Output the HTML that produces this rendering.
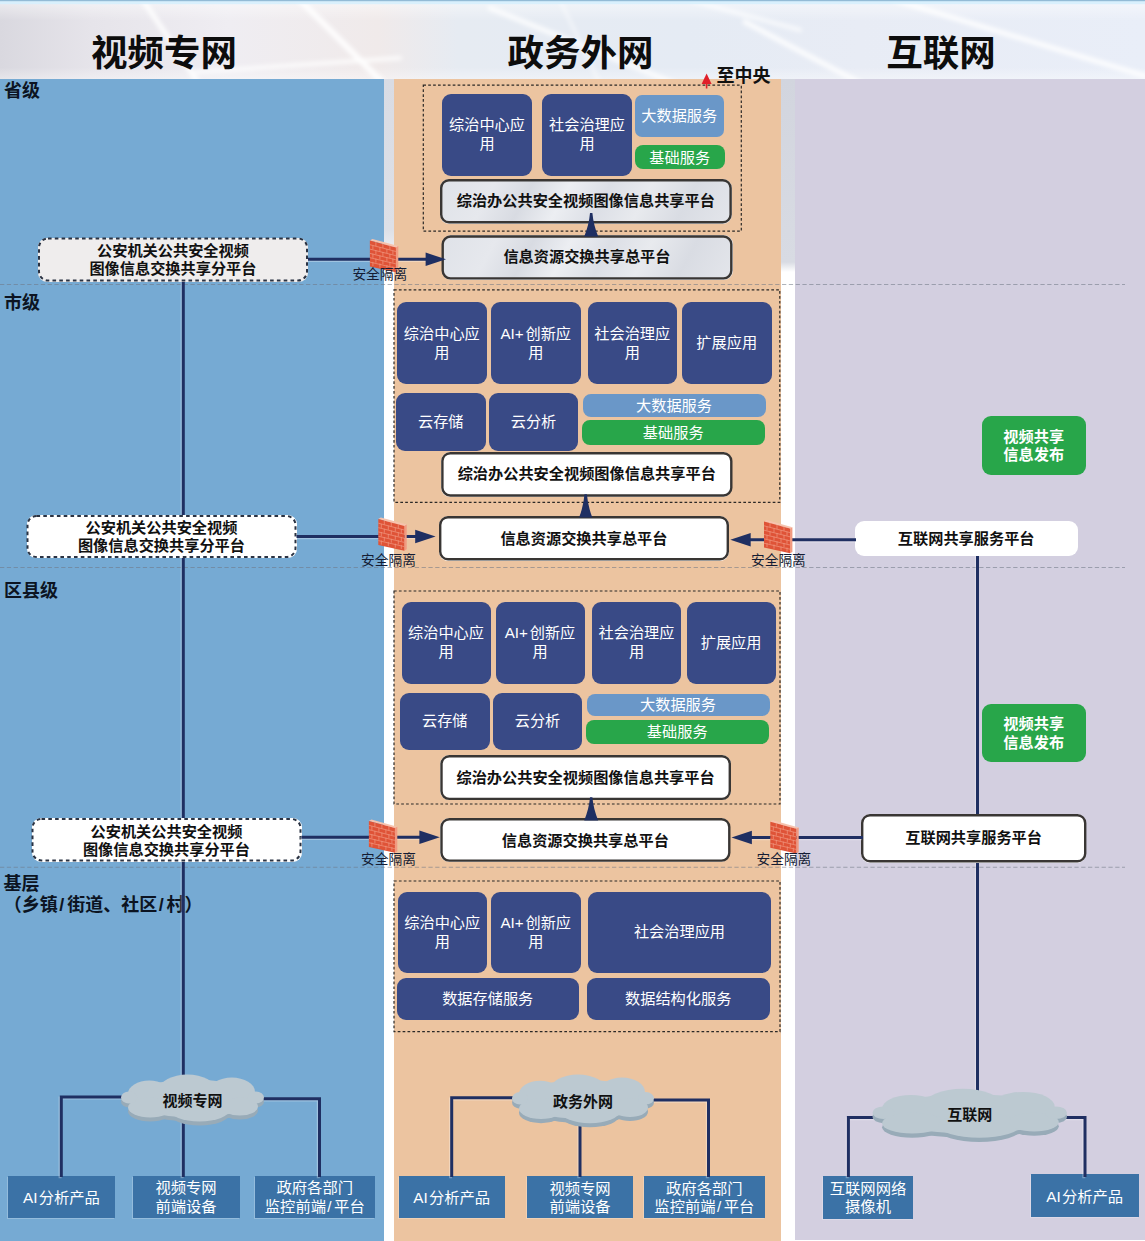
<!DOCTYPE html><html lang="zh-CN"><head><meta charset="utf-8"><title>公共安全视频图像信息共享平台 网络架构</title><style>
html,body{margin:0;padding:0;background:#eef1f6}
body{width:1145px;height:1241px;overflow:hidden;font-family:"Liberation Sans",sans-serif}
#stage{position:relative;width:1145px;height:1241px;overflow:hidden;
 background:#fff;}
.col{position:absolute;top:79.3px;height:1162px}
.b{position:absolute;margin:0;display:flex;align-items:center;justify-content:center;text-align:center;
 font-size:15px;line-height:19px;color:transparent;white-space:nowrap;overflow:hidden;font-weight:normal}
.b.l{justify-content:flex-start;font-size:17px;font-weight:bold}
h1.b{font-size:36px;font-weight:bold}
svg.layer{position:absolute;left:0;top:0;width:1145px;height:1241px;overflow:visible}
svg.layer text{font-family:"Liberation Sans","Noto Sans CJK SC",sans-serif;white-space:pre}
svg.layer .tb{font-weight:bold}
svg.layer .tr{font-weight:normal}
</style></head><body><div id="stage">
<svg width="0" height="0" style="position:absolute" aria-hidden="true"><defs><g id="fw"><path d="M0 0 L2.5 -1.4 L28.4 5.7 L26 7 Z" fill="#f6c3ae"/><path d="M26 7 L28.4 5.7 L28.4 30.4 L26 31.8 Z" fill="#f19a80"/><path d="M0 0 L26 7 L26 31.8 L0 26 Z" fill="#df5337"/><g stroke="#f09a82" stroke-width=".7" fill="none"><path d="M0 4.3 L26 11.1 M0 8.7 L26 15.3 M0 13 L26 19.4 M0 17.3 L26 23.5 M0 21.7 L26 27.7"/><path d="M6 1.6V5.8 M13 3.5V7.6 M20 5.4V9.4 M3 5V9 M10 6.8V10.9 M17 8.6V12.6 M23 10.2V14.1 M6 9.8V13.9 M13 11.6V15.7 M20 13.4V17.4 M3 13.2V17.4 M10 15V19 M17 16.7V20.7 M23 18.2V22.2 M6 18.1V22.2 M13 19.9V23.8 M20 21.5V25.5 M3 21.5V25.7 M10 23V27.2 M17 24.7V28.8 M23 26V30"/></g></g><g id="cloud"><g fill="#98abb8" transform="translate(0 4)"><ellipse cx="71" cy="24" rx="62" ry="19"/><ellipse cx="28" cy="19" rx="21" ry="13"/><ellipse cx="66" cy="15" rx="28" ry="15"/><ellipse cx="110" cy="17" rx="23" ry="14"/><ellipse cx="29" cy="33" rx="22" ry="10"/><ellipse cx="78" cy="35" rx="30" ry="12"/><ellipse cx="118" cy="32" rx="18" ry="9"/><ellipse cx="8" cy="23" rx="8" ry="6"/><ellipse cx="134" cy="23" rx="8" ry="6"/></g><g fill="#bcc9d1"><ellipse cx="71" cy="24" rx="62" ry="19"/><ellipse cx="28" cy="19" rx="21" ry="13"/><ellipse cx="66" cy="15" rx="28" ry="15"/><ellipse cx="110" cy="17" rx="23" ry="14"/><ellipse cx="29" cy="33" rx="22" ry="10"/><ellipse cx="78" cy="35" rx="30" ry="12"/><ellipse cx="118" cy="32" rx="18" ry="9"/><ellipse cx="8" cy="23" rx="8" ry="6"/><ellipse cx="134" cy="23" rx="8" ry="6"/></g></g></defs></svg>
<svg class="hdr" width="1145" height="84" viewBox="0 0 1145 84" aria-hidden="true" style="position:absolute;left:0;top:0"><defs><linearGradient id="hg" x1="0" x2="1" y1="0" y2="0"><stop offset="0" stop-color="#d9d8df"/><stop offset=".08" stop-color="#e6e4ea"/><stop offset=".2" stop-color="#efedf2"/><stop offset=".33" stop-color="#f0eaea"/><stop offset=".4" stop-color="#e6ebf2"/><stop offset=".6" stop-color="#e5ebf4"/><stop offset=".75" stop-color="#e8ecf5"/><stop offset="1" stop-color="#e9eef8"/></linearGradient><linearGradient id="hv" x1="0" x2="0" y1="0" y2="1"><stop offset="0" stop-color="#fff" stop-opacity=".55"/><stop offset=".25" stop-color="#fff" stop-opacity="0"/><stop offset=".8" stop-color="#fff" stop-opacity="0"/><stop offset="1" stop-color="#fff" stop-opacity=".5"/></linearGradient><filter id="bl" x="-5%" y="-50%" width="110%" height="200%"><feGaussianBlur stdDeviation="2.2"/></filter></defs><rect width="1145" height="84" fill="url(#hg)"/><rect width="1145" height="84" fill="url(#hv)"/><g filter="url(#bl)" stroke="#fff" fill="none" stroke-linecap="round"><path d="M143 0 L199 84" stroke-width="5" opacity=".85"/><path d="M300 0 L384 84" stroke-width="6" opacity=".9"/><path d="M196 72 L400 58" stroke-width="4" opacity=".8"/><path d="M490 8 L676 84" stroke-width="5" opacity=".8"/><path d="M690 0 L800 30" stroke-width="4" opacity=".7"/><path d="M745 22 L862 84" stroke-width="5" opacity=".85"/><path d="M895 0 L1145 76" stroke-width="5" opacity=".85"/><path d="M560 0 L600 84" stroke-width="3" opacity=".5"/></g><rect width="1145" height="4.2" fill="#d6effd" opacity=".9"/><rect width="1145" height="1.2" fill="#93bbd6"/></svg>
<div class="col" style="left:0;width:384px;background:#76aad3"></div>
<div class="col" style="left:393.5px;width:387px;background:#ecc4a0"></div>
<div class="col" style="left:795px;width:350px;height:1160.3px;background:#d3cfe0"></div>
<div class="col" style="left:384px;width:9.5px;background:linear-gradient(180deg,#d9dce4 0,#dde0e7 150px,#fff 200px)"></div>
<div class="col" style="left:780.5px;width:14.5px;background:linear-gradient(180deg,#d2d5de 0,#d8dbe3 183px,#fff 193px)"></div>
<svg class="layer" viewBox="0 0 1145 1241" aria-hidden="true"><g fill="#0c1422" class="tb" font-size="18"><text x="4" y="97.24">省级</text><text x="4" y="308.84">市级</text><text x="4" y="597.34">区县级</text><text x="3.5" y="889.54">基层</text><text x="3.8" y="910.84">（乡镇<tspan x="59.37">/</tspan><tspan x="67.2">街道、社区</tspan><tspan x="158.76">/</tspan><tspan x="166.59">村）</tspan></text></g><line x1="0" y1="284.5" x2="1125" y2="284.5" stroke="#6f7784" stroke-width="1.1" stroke-dasharray="4.3 2.5" opacity=".55"/><line x1="0" y1="567.5" x2="1125" y2="567.5" stroke="#6f7784" stroke-width="1.1" stroke-dasharray="4.3 2.5" opacity=".55"/><line x1="0" y1="867.3" x2="1125" y2="867.3" stroke="#6f7784" stroke-width="1.1" stroke-dasharray="4.3 2.5" opacity=".55"/><path d="M183.3 281 L183.3 1080" fill="none" stroke="#fff" stroke-opacity=".3" stroke-width="3" transform="translate(-1.2 1.2)"/><path d="M183.3 281 L183.3 1080" fill="none" stroke="#1f2f62" stroke-width="3" stroke-linejoin="miter"/><path d="M977.5 555 L977.5 1092" fill="none" stroke="#fff" stroke-opacity=".3" stroke-width="3" transform="translate(-1.2 1.2)"/><path d="M977.5 555 L977.5 1092" fill="none" stroke="#1f2f62" stroke-width="3" stroke-linejoin="miter"/><rect x="423.3" y="85.2" width="318" height="146" fill="none" stroke="#2b2826" stroke-width="1.2" stroke-dasharray="2.7 2.2"/><rect x="394" y="289.8" width="385.8" height="212.5" fill="none" stroke="#2b2826" stroke-width="1.2" stroke-dasharray="2.7 2.2"/><rect x="394" y="591" width="386" height="213" fill="none" stroke="#2b2826" stroke-width="1.2" stroke-dasharray="2.7 2.2"/><rect x="394" y="881" width="386" height="150.7" fill="none" stroke="#2b2826" stroke-width="1.2" stroke-dasharray="2.7 2.2"/></svg>
<h1 class="b" style="left:64px;top:32px;width:200px;height:42px"><span>视频专网</span></h1>
<h1 class="b" style="left:480.5px;top:32px;width:200px;height:42px"><span>政务外网</span></h1>
<h1 class="b" style="left:841px;top:32px;width:200px;height:42px"><span>互联网</span></h1>
<div class="b l" style="left:4px;top:81.4px;height:18px"><span>省级</span></div>
<div class="b l" style="left:4px;top:293px;height:18px"><span>市级</span></div>
<div class="b l" style="left:4px;top:581.5px;height:18px"><span>区县级</span></div>
<div class="b l" style="left:3.5px;top:873.7px;height:18px"><span>基层</span></div>
<div class="b l" style="left:3.8px;top:895px;height:18px"><span>（乡镇/街道、社区/村）</span></div>
<div class="b" style="left:716px;top:69px;width:56px;height:18px"><span>至中央</span></div>
<div class="b " style="left:442px;top:94px;width:90px;height:81.7px;background:#394a86;border-radius:9px;"><span>综治中心应<br>用</span></div>
<div class="b " style="left:542px;top:94px;width:90px;height:81.7px;background:#394a86;border-radius:9px;"><span>社会治理应<br>用</span></div>
<div class="b " style="left:634.5px;top:95px;width:89.5px;height:42px;background:#6a97c8;border-radius:7px;"><span>大数据服务</span></div>
<div class="b " style="left:635px;top:145px;width:89.5px;height:24px;background:#28a64a;border-radius:8px;"><span>基础服务</span></div>
<div class="b " style="left:440px;top:179px;width:291.8px;height:44.5px;background:linear-gradient(118deg,#dfe2e8 0,#e6e8ed 18%,#d8dbe2 30%,#eceef2 42%,#dcdfe6 55%,#e8eaee 68%,#d9dce3 82%,#e4e6eb 100%);border-radius:9px;"><span>综治办公共安全视频图像信息共享平台</span></div>
<div class="b " style="left:441.5px;top:235.3px;width:291px;height:44.3px;background:linear-gradient(118deg,#dfe2e8 0,#e6e8ed 18%,#d8dbe2 30%,#eceef2 42%,#dcdfe6 55%,#e8eaee 68%,#d9dce3 82%,#e4e6eb 100%);border-radius:9px;"><span>信息资源交换共享总平台</span></div>
<div class="b " style="left:38px;top:237.5px;width:270px;height:44px;background:#efeded;border-radius:9px;"><span>公安机关公共安全视频<br>图像信息交换共享分平台</span></div>
<div class="b" style="left:350.8px;top:266.7px;width:58px;height:15px;font-size:13px"><span>安全隔离</span></div>
<div class="b " style="left:397px;top:302px;width:89.7px;height:82.3px;background:#394a86;border-radius:9px;"><span>综治中心应<br>用</span></div>
<div class="b " style="left:491px;top:302px;width:89.5px;height:82.3px;background:#394a86;border-radius:9px;"><span>AI+创新应<br>用</span></div>
<div class="b " style="left:588px;top:302px;width:88.5px;height:82.3px;background:#394a86;border-radius:9px;"><span>社会治理应<br>用</span></div>
<div class="b " style="left:682px;top:302px;width:89.5px;height:82.3px;background:#394a86;border-radius:9px;"><span>扩展应用</span></div>
<div class="b " style="left:396px;top:393px;width:89.5px;height:57.5px;background:#394a86;border-radius:9px;"><span>云存储</span></div>
<div class="b " style="left:489px;top:393px;width:89px;height:57.5px;background:#394a86;border-radius:9px;"><span>云分析</span></div>
<div class="b " style="left:582.5px;top:394px;width:183px;height:23.3px;background:#6a97c8;border-radius:8px;"><span>大数据服务</span></div>
<div class="b " style="left:582px;top:420px;width:182.5px;height:24.6px;background:#28a64a;border-radius:8px;"><span>基础服务</span></div>
<div class="b " style="left:441.2px;top:452px;width:291.3px;height:44.7px;background:#fff;border-radius:9px;"><span>综治办公共安全视频图像信息共享平台</span></div>
<div class="b " style="left:439px;top:516px;width:290px;height:44.5px;background:#fff;border-radius:9px;"><span>信息资源交换共享总平台</span></div>
<div class="b " style="left:26.5px;top:515px;width:270px;height:43px;background:#fff;border-radius:9px;"><span>公安机关公共安全视频<br>图像信息交换共享分平台</span></div>
<div class="b" style="left:359.5px;top:552.1px;width:58px;height:15px;font-size:13px"><span>安全隔离</span></div>
<div class="b " style="left:854.5px;top:521px;width:223.5px;height:35px;background:#fff;border-radius:9px;"><span>互联网共享服务平台</span></div>
<div class="b" style="left:749.4px;top:552.3px;width:58px;height:15px;font-size:13px"><span>安全隔离</span></div>
<div class="b " style="left:982px;top:416px;width:103.5px;height:58.5px;background:#28a64a;border-radius:9px;"><span>视频共享<br>信息发布</span></div>
<div class="b " style="left:401.5px;top:602px;width:89px;height:81.5px;background:#394a86;border-radius:9px;"><span>综治中心应<br>用</span></div>
<div class="b " style="left:495.5px;top:602px;width:89px;height:81.5px;background:#394a86;border-radius:9px;"><span>AI+创新应<br>用</span></div>
<div class="b " style="left:592px;top:602px;width:89px;height:81.5px;background:#394a86;border-radius:9px;"><span>社会治理应<br>用</span></div>
<div class="b " style="left:686.5px;top:602px;width:89.2px;height:81.5px;background:#394a86;border-radius:9px;"><span>扩展应用</span></div>
<div class="b " style="left:400px;top:693px;width:89.5px;height:57px;background:#394a86;border-radius:9px;"><span>云存储</span></div>
<div class="b " style="left:493px;top:693px;width:89px;height:57px;background:#394a86;border-radius:9px;"><span>云分析</span></div>
<div class="b " style="left:586.5px;top:693.5px;width:183px;height:22.8px;background:#6a97c8;border-radius:8px;"><span>大数据服务</span></div>
<div class="b " style="left:585.5px;top:719.8px;width:183.5px;height:23.8px;background:#28a64a;border-radius:8px;"><span>基础服务</span></div>
<div class="b " style="left:440.3px;top:755px;width:290.7px;height:45.1px;background:#fff;border-radius:9px;"><span>综治办公共安全视频图像信息共享平台</span></div>
<div class="b " style="left:440.3px;top:818px;width:290.2px;height:43.8px;background:#fff;border-radius:9px;"><span>信息资源交换共享总平台</span></div>
<div class="b " style="left:31.5px;top:818px;width:270px;height:43.5px;background:#fff;border-radius:9px;"><span>公安机关公共安全视频<br>图像信息交换共享分平台</span></div>
<div class="b" style="left:359.5px;top:851.5px;width:58px;height:15px;font-size:13px"><span>安全隔离</span></div>
<div class="b " style="left:861px;top:814px;width:225.4px;height:48.5px;background:#fff;border-radius:9px;"><span>互联网共享服务平台</span></div>
<div class="b" style="left:754.9px;top:851.3px;width:58px;height:15px;font-size:13px"><span>安全隔离</span></div>
<div class="b " style="left:982px;top:703.5px;width:103.5px;height:58.5px;background:#28a64a;border-radius:9px;"><span>视频共享<br>信息发布</span></div>
<div class="b " style="left:397.5px;top:892px;width:89.5px;height:81px;background:#394a86;border-radius:9px;"><span>综治中心应<br>用</span></div>
<div class="b " style="left:491px;top:892px;width:89.5px;height:81px;background:#394a86;border-radius:9px;"><span>AI+创新应<br>用</span></div>
<div class="b " style="left:588px;top:892px;width:183px;height:81px;background:#394a86;border-radius:9px;"><span>社会治理应用</span></div>
<div class="b " style="left:396.5px;top:978px;width:182.5px;height:41.5px;background:#394a86;border-radius:9px;"><span>数据存储服务</span></div>
<div class="b " style="left:586.5px;top:978px;width:183.5px;height:41.5px;background:#394a86;border-radius:9px;"><span>数据结构化服务</span></div>
<div class="b" style="left:121px;top:1074.6px;width:143px;height:51.9px"><span>视频专网</span></div>
<div class="b " style="left:8px;top:1175.5px;width:107px;height:42.5px;background:#3b72a6;border-radius:0px;box-shadow:-1px 1px 0 rgba(255,255,255,.22);"><span>AI分析产品</span></div>
<div class="b " style="left:132.5px;top:1175.5px;width:107px;height:42.5px;background:#3b72a6;border-radius:0px;box-shadow:-1px 1px 0 rgba(255,255,255,.22);"><span>视频专网<br>前端设备</span></div>
<div class="b " style="left:254.5px;top:1175.5px;width:120.5px;height:42.5px;background:#3b72a6;border-radius:0px;box-shadow:-1px 1px 0 rgba(255,255,255,.22);"><span>政府各部门<br>监控前端/平台</span></div>
<div class="b" style="left:512px;top:1074.5px;width:142px;height:53.8px"><span>政务外网</span></div>
<div class="b " style="left:398.5px;top:1176px;width:106.5px;height:42px;background:#3b72a6;border-radius:0px;box-shadow:-1px 1px 0 rgba(255,255,255,.22);"><span>AI分析产品</span></div>
<div class="b " style="left:527px;top:1176px;width:106px;height:42px;background:#3b72a6;border-radius:0px;box-shadow:-1px 1px 0 rgba(255,255,255,.22);"><span>视频专网<br>前端设备</span></div>
<div class="b " style="left:644px;top:1176px;width:120.6px;height:42px;background:#3b72a6;border-radius:0px;box-shadow:-1px 1px 0 rgba(255,255,255,.22);"><span>政府各部门<br>监控前端/平台</span></div>
<div class="b" style="left:872.5px;top:1088.8px;width:194.5px;height:54.2px"><span>互联网</span></div>
<div class="b " style="left:822.6px;top:1175.5px;width:90.8px;height:43.3px;background:#3b72a6;border-radius:0px;box-shadow:-1px 1px 0 rgba(255,255,255,.22);"><span>互联网网络<br>摄像机</span></div>
<div class="b " style="left:1030.8px;top:1174.4px;width:107.9px;height:43px;background:#3b72a6;border-radius:0px;box-shadow:-1px 1px 0 rgba(255,255,255,.22);"><span>AI分析产品</span></div>
<svg class="layer" viewBox="0 0 1145 1241" aria-hidden="true"><rect x="441.2" y="180.2" width="289.4" height="42.1" rx="7.8" fill="none" stroke="#393634" stroke-width="2.4"/><rect x="442.7" y="236.5" width="288.6" height="41.9" rx="7.8" fill="none" stroke="#393634" stroke-width="2.4"/><rect x="442.4" y="453.2" width="288.9" height="42.3" rx="7.8" fill="none" stroke="#393634" stroke-width="2.4"/><rect x="440.2" y="517.2" width="287.6" height="42.1" rx="7.8" fill="none" stroke="#393634" stroke-width="2.4"/><rect x="441.5" y="756.2" width="288.3" height="42.7" rx="7.8" fill="none" stroke="#393634" stroke-width="2.4"/><rect x="441.5" y="819.2" width="287.8" height="41.4" rx="7.8" fill="none" stroke="#393634" stroke-width="2.4"/><rect x="862.2" y="815.2" width="223" height="46.1" rx="7.8" fill="none" stroke="#393634" stroke-width="2.4"/><path d="M706.6 73.5 L701.6 84 L711.6 84 Z" fill="#e0202a"/><line x1="706.6" y1="84" x2="706.6" y2="88.5" stroke="#e0202a" stroke-width="1.6"/><path d="M590 213 L592.4 213 Q593.4 224.75 598.2 236.5 L584.2 236.5 Q589 224.75 590 213 Z" fill="#1f2f62"/><rect x="39" y="238.5" width="268" height="42" rx="9" fill="none" stroke="#2a3242" stroke-width="2" stroke-dasharray="3.6 3.2"/><path d="M308 259.3 L429.68 259.3" fill="none" stroke="#fff" stroke-opacity=".3" stroke-width="3.1" transform="translate(-1.2 1.2)"/><path d="M308 259.3 L429.68 259.3" fill="none" stroke="#1f2f62" stroke-width="3.1" stroke-linejoin="miter"/><path d="M446 259.3 L425.6 252.6 L425.6 266 Z" fill="#1f2f62"/><use href="#fw" transform="translate(369.9 240.4) scale(1)"/><path d="M584.5 494.3 L586.9 494.3 Q587.9 505.95 592.3 517.6 L579.1 517.6 Q583.5 505.95 584.5 494.3 Z" fill="#1f2f62"/><rect x="27.5" y="516" width="268" height="41" rx="9" fill="none" stroke="#2a3242" stroke-width="2" stroke-dasharray="3.6 3.2"/><path d="M296.5 536.5 L419.28 536.5" fill="none" stroke="#fff" stroke-opacity=".3" stroke-width="3.1" transform="translate(-1.2 1.2)"/><path d="M296.5 536.5 L419.28 536.5" fill="none" stroke="#1f2f62" stroke-width="3.1" stroke-linejoin="miter"/><path d="M435.6 536.5 L415.2 529.8 L415.2 543.2 Z" fill="#1f2f62"/><use href="#fw" transform="translate(378.3 518.9) scale(1)"/><path d="M856 539.8 L746.62 539.8" fill="none" stroke="#fff" stroke-opacity=".3" stroke-width="3.1" transform="translate(-1.2 1.2)"/><path d="M856 539.8 L746.62 539.8" fill="none" stroke="#1f2f62" stroke-width="3.1" stroke-linejoin="miter"/><path d="M730.3 539.8 L750.7 533.1 L750.7 546.5 Z" fill="#1f2f62"/><use href="#fw" transform="translate(764 521.5) scale(1)"/><path d="M590 797.2 L592.4 797.2 Q593.4 808.8 598.2 820.4 L584.2 820.4 Q589 808.8 590 797.2 Z" fill="#1f2f62"/><rect x="32.5" y="819" width="268" height="41.5" rx="9" fill="none" stroke="#2a3242" stroke-width="2" stroke-dasharray="3.6 3.2"/><path d="M301.5 837.2 L423.48 837.2" fill="none" stroke="#fff" stroke-opacity=".3" stroke-width="3.1" transform="translate(-1.2 1.2)"/><path d="M301.5 837.2 L423.48 837.2" fill="none" stroke="#1f2f62" stroke-width="3.1" stroke-linejoin="miter"/><path d="M439.8 837.2 L419.4 830.5 L419.4 843.9 Z" fill="#1f2f62"/><use href="#fw" transform="translate(368.9 821) scale(1)"/><path d="M863 837.5 L747.82 837.5" fill="none" stroke="#fff" stroke-opacity=".3" stroke-width="3.1" transform="translate(-1.2 1.2)"/><path d="M863 837.5 L747.82 837.5" fill="none" stroke="#1f2f62" stroke-width="3.1" stroke-linejoin="miter"/><path d="M731.5 837.5 L751.9 830.8 L751.9 844.2 Z" fill="#1f2f62"/><use href="#fw" transform="translate(770.3 821.7) scale(1)"/><path d="M130 1096.9 L61.3 1096.9 L61.3 1177" fill="none" stroke="#fff" stroke-opacity=".3" stroke-width="3" transform="translate(-1.2 1.2)"/><path d="M130 1096.9 L61.3 1096.9 L61.3 1177" fill="none" stroke="#1f2f62" stroke-width="3" stroke-linejoin="miter"/><path d="M183.3 1120 L183.3 1177" fill="none" stroke="#fff" stroke-opacity=".3" stroke-width="3" transform="translate(-1.2 1.2)"/><path d="M183.3 1120 L183.3 1177" fill="none" stroke="#1f2f62" stroke-width="3" stroke-linejoin="miter"/><path d="M255 1098.8 L319.5 1098.8 L319.5 1177" fill="none" stroke="#fff" stroke-opacity=".3" stroke-width="3" transform="translate(-1.2 1.2)"/><path d="M255 1098.8 L319.5 1098.8 L319.5 1177" fill="none" stroke="#1f2f62" stroke-width="3" stroke-linejoin="miter"/><use href="#cloud" transform="translate(121 1074.6) scale(1.0070 0.9981)"/><path d="M520 1097.7 L451.7 1097.7 L451.7 1177" fill="none" stroke="#fff" stroke-opacity=".3" stroke-width="3" transform="translate(-1.2 1.2)"/><path d="M520 1097.7 L451.7 1097.7 L451.7 1177" fill="none" stroke="#1f2f62" stroke-width="3" stroke-linejoin="miter"/><path d="M580 1120 L580 1177" fill="none" stroke="#fff" stroke-opacity=".3" stroke-width="3" transform="translate(-1.2 1.2)"/><path d="M580 1120 L580 1177" fill="none" stroke="#1f2f62" stroke-width="3" stroke-linejoin="miter"/><path d="M645 1100 L708.5 1100 L708.5 1177" fill="none" stroke="#fff" stroke-opacity=".3" stroke-width="3" transform="translate(-1.2 1.2)"/><path d="M645 1100 L708.5 1100 L708.5 1177" fill="none" stroke="#1f2f62" stroke-width="3" stroke-linejoin="miter"/><use href="#cloud" transform="translate(512 1074.5) scale(1.0000 1.0346)"/><path d="M880 1117.5 L848.4 1117.5 L848.4 1177" fill="none" stroke="#fff" stroke-opacity=".3" stroke-width="3" transform="translate(-1.2 1.2)"/><path d="M880 1117.5 L848.4 1117.5 L848.4 1177" fill="none" stroke="#1f2f62" stroke-width="3" stroke-linejoin="miter"/><path d="M1060 1117.5 L1085 1117.5 L1085 1177" fill="none" stroke="#fff" stroke-opacity=".3" stroke-width="3" transform="translate(-1.2 1.2)"/><path d="M1060 1117.5 L1085 1117.5 L1085 1177" fill="none" stroke="#1f2f62" stroke-width="3" stroke-linejoin="miter"/><use href="#cloud" transform="translate(872.5 1088.8) scale(1.3697 1.0423)"/></svg>
<svg class="layer" viewBox="0 0 1145 1241" aria-hidden="true">
<g fill="#0d0d0d" class="tb" font-size="36.5"><text x="91" y="66.37">视频专网</text><text x="507.5" y="66.37">政务外网</text><text x="886.25" y="66.37">互联网</text></g>
<g fill="#111" class="tb" font-size="18"><text x="716.4" y="82.24">至中央</text></g>
<g fill="#fff" class="tr" font-size="15.2">
<text x="449" y="130.33">综治中心应</text><text x="479.4" y="149.33">用</text>
<text x="549" y="130.33">社会治理应</text><text x="579.4" y="149.33">用</text>
<text x="641.25" y="121.28">大数据服务</text>
<text x="649.35" y="162.78">基础服务</text>
<text x="403.85" y="338.63">综治中心应</text><text x="434.25" y="357.63">用</text>
<text x="500.45" y="338.63">AI+<tspan x="525.45">创新应</tspan></text><text x="528.15" y="357.63">用</text>
<text x="594.25" y="338.63">社会治理应</text><text x="624.65" y="357.63">用</text>
<text x="696.35" y="348.13">扩展应用</text>
<text x="417.95" y="426.73">云存储</text>
<text x="510.7" y="426.73">云分析</text>
<text x="636" y="410.93">大数据服务</text>
<text x="642.85" y="437.58">基础服务</text>
<text x="408" y="638.23">综治中心应</text><text x="438.4" y="657.23">用</text>
<text x="504.7" y="638.23">AI+<tspan x="529.7">创新应</tspan></text><text x="532.4" y="657.23">用</text>
<text x="598.5" y="638.23">社会治理应</text><text x="628.9" y="657.23">用</text>
<text x="700.7" y="647.73">扩展应用</text>
<text x="421.95" y="726.48">云存储</text>
<text x="514.7" y="726.48">云分析</text>
<text x="640" y="709.98">大数据服务</text>
<text x="646.85" y="736.78">基础服务</text>
<text x="404.25" y="927.98">综治中心应</text><text x="434.65" y="946.98">用</text>
<text x="500.45" y="927.98">AI+<tspan x="525.45">创新应</tspan></text><text x="528.15" y="946.98">用</text>
<text x="633.9" y="937.48">社会治理应用</text>
<text x="442.15" y="1003.73">数据存储服务</text>
<text x="625.05" y="1003.73">数据结构化服务</text>
</g>
<g fill="#111" class="tb" font-size="15.2">
<text x="456.7" y="206.03">综治办公共安全视频图像信息共享平台</text>
<text x="503.4" y="261.73">信息资源交换共享总平台</text>
<text x="97" y="256.28">公安机关公共安全视频</text><text x="89.4" y="274.28">图像信息交换共享分平台</text>
<text x="457.65" y="479.33">综治办公共安全视频图像信息共享平台</text>
<text x="500.4" y="543.73">信息资源交换共享总平台</text>
<text x="85.5" y="533.28">公安机关公共安全视频</text><text x="77.9" y="551.28">图像信息交换共享分平台</text>
<text x="897.85" y="544.28">互联网共享服务平台</text>
<text x="456.45" y="782.73">综治办公共安全视频图像信息共享平台</text>
<text x="501.8" y="845.68">信息资源交换共享总平台</text>
<text x="90.5" y="836.53">公安机关公共安全视频</text><text x="82.9" y="854.53">图像信息交换共享分平台</text>
<text x="905.3" y="843.23">互联网共享服务平台</text>
</g>
<g fill="#141c33" class="tr" font-size="13.7">
<text x="352.4" y="279.41">安全隔离</text>
<text x="361.1" y="564.81">安全隔离</text>
<text x="751" y="565.01">安全隔离</text>
<text x="361.1" y="864.21">安全隔离</text>
<text x="756.5" y="864.01">安全隔离</text>
</g>
<g fill="#fff" class="tb" font-size="15.2">
<text x="1003.35" y="441.78">视频共享</text><text x="1003.35" y="460.28">信息发布</text>
<text x="1003.35" y="729.28">视频共享</text><text x="1003.35" y="747.78">信息发布</text>
</g>
<g fill="#111" class="tb" font-size="15">
<text x="162.5" y="1106.25">视频专网</text>
<text x="553" y="1107.1">政务外网</text>
<text x="947.25" y="1119.9">互联网</text>
</g>
<g fill="#fff" class="tr" font-size="15.3">
<text x="23.11" y="1202.56">AI<tspan x="38.69">分析产品</tspan></text>
<text x="155.4" y="1193.31">视频专网</text><text x="155.4" y="1211.81">前端设备</text>
<text x="276.5" y="1193.31">政府各部门</text><text x="264.8" y="1211.81">监控前端<tspan x="327.35">/</tspan><tspan x="334.09">平台</tspan></text>
<text x="413.36" y="1202.81">AI<tspan x="428.94">分析产品</tspan></text>
<text x="549.4" y="1193.56">视频专网</text><text x="549.4" y="1212.06">前端设备</text>
<text x="666.05" y="1193.56">政府各部门</text><text x="654.35" y="1212.06">监控前端<tspan x="716.9">/</tspan><tspan x="723.64">平台</tspan></text>
<text x="829.75" y="1193.71">互联网网络</text><text x="845.05" y="1212.21">摄像机</text>
<text x="1046.36" y="1201.71">AI<tspan x="1061.94">分析产品</tspan></text>
</g>
</svg>
</div></body></html>
